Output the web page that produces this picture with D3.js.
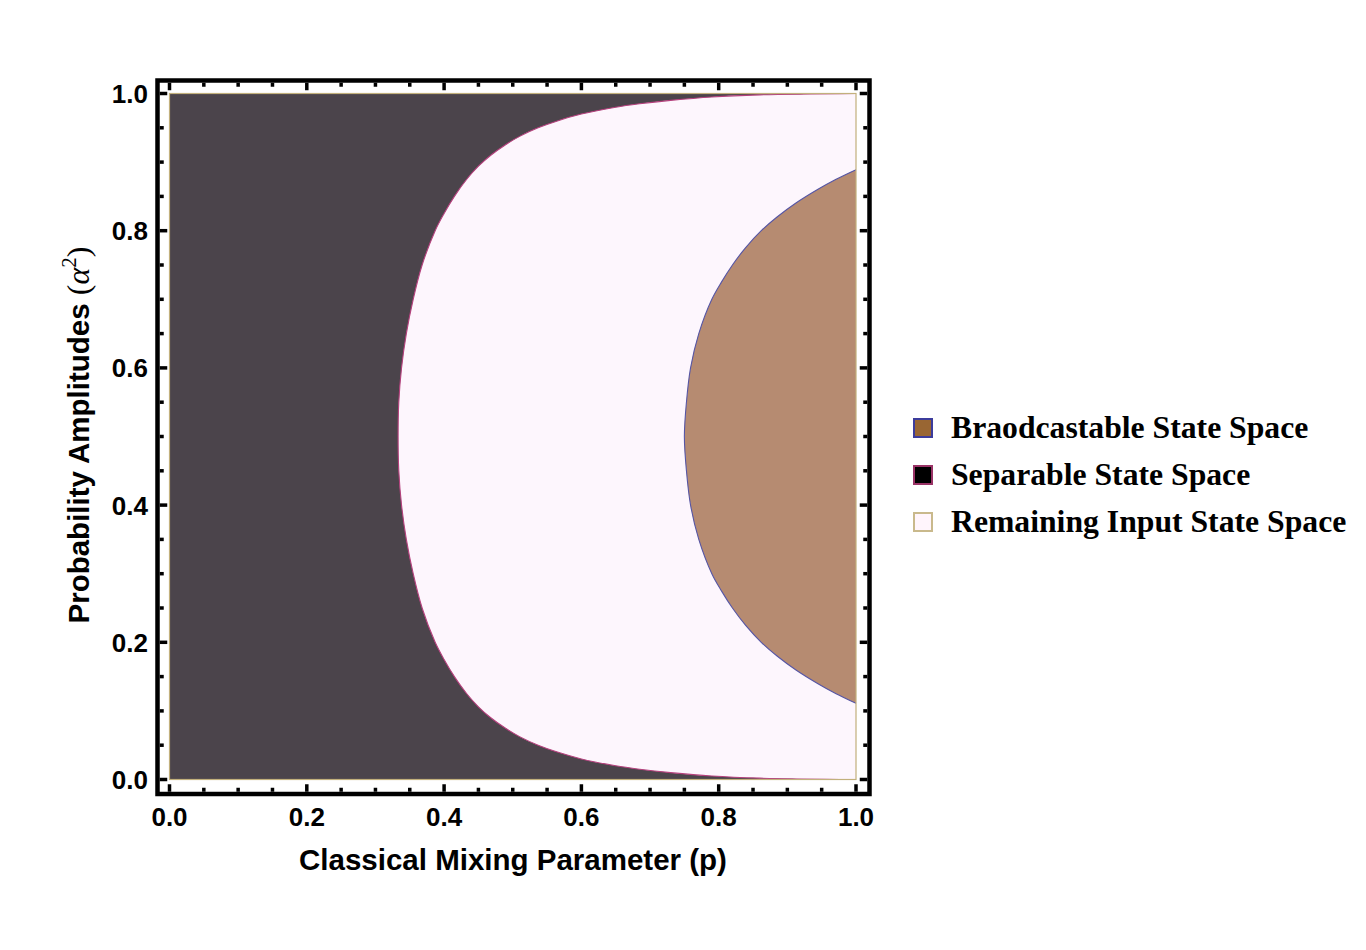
<!DOCTYPE html>
<html lang="en">
<head>
  <meta charset="UTF-8">
  <title>Broadcastable and Separable State Space</title>
  <script src="https://d3js.org/d3.v7.min.js"></script>
  <style>
    body
    {
      margin: 0;
      background-color: #ffffff;
    }

    svg
    {
      display: block;
    }

    .tick-label
    {
      font-family: "Liberation Sans", Arial, sans-serif;
      font-weight: bold;
      font-size: 26px;
      fill: #000;
    }

    .axis-title
    {
      font-family: "Liberation Sans", Arial, sans-serif;
      font-weight: bold;
      font-size: 29.5px;
      fill: #000;
    }

    .legend-text
    {
      font-family: "Liberation Serif", "Times New Roman", serif;
      font-weight: bold;
      font-size: 31.7px;
      fill: #000;
    }
  </style>
</head>
<body>
  <svg width="1366" height="950"></svg>
  <script>
    // separable boundary: p at each alpha^2
    const sepAlpha = [0, 0.002, 0.005, 0.01, 0.015, 0.02, 0.03, 0.04, 0.05, 0.0625, 0.075, 0.09, 0.106, 0.125,
                      0.15, 0.175, 0.2, 0.25, 0.3, 0.35, 0.4, 0.45, 0.5,
                      0.55, 0.6, 0.65, 0.7, 0.75, 0.8, 0.825, 0.85, 0.875, 0.894, 0.91, 0.925, 0.9375,
                      0.95, 0.96, 0.97, 0.98, 0.985, 0.99, 0.995, 0.998, 1];
    const sepP = [1.0, 0.86, 0.79, 0.73, 0.685, 0.65, 0.60, 0.565, 0.537, 0.51, 0.489, 0.468, 0.450, 0.433,
                  0.415, 0.400, 0.387, 0.368, 0.355, 0.345, 0.338, 0.334, 0.333,
                  0.334, 0.338, 0.345, 0.355, 0.368, 0.387, 0.400, 0.415, 0.433, 0.450, 0.468, 0.489, 0.51,
                  0.537, 0.565, 0.60, 0.65, 0.685, 0.73, 0.79, 0.86, 1.0];

    // broadcastable boundary
    const broadAlpha = [0.111, 0.125, 0.14, 0.16, 0.18, 0.2, 0.225, 0.25, 0.275, 0.3, 0.35, 0.4, 0.45, 0.5,
                        0.55, 0.6, 0.65, 0.7, 0.725, 0.75, 0.775, 0.8, 0.82, 0.84, 0.86, 0.875, 0.889];
    const broadP = [1.0, 0.971, 0.944, 0.912, 0.885, 0.862, 0.839, 0.820, 0.804, 0.790, 0.771, 0.759, 0.753, 0.750,
                    0.753, 0.759, 0.771, 0.790, 0.804, 0.820, 0.839, 0.862, 0.885, 0.912, 0.944, 0.971, 1.0];

    const majorTicks = [0, 0.2, 0.4, 0.6, 0.8, 1.0];
    const tickLabels = ["0.0", "0.2", "0.4", "0.6", "0.8", "1.0"];

    const legendNames = ["Braodcastable State Space", "Separable State Space", "Remaining Input State Space"];
    const legendFill = ["#996633", "#000000", "#fff5fc"];
    const legendStroke = ["#3c3c9c", "#993366", "#c9b98c"];

    const svg = d3.select("svg");

    const x = d3.scaleLinear().domain([0, 1]).range([169.5, 856]);
    const y = d3.scaleLinear().domain([0, 1]).range([779.5, 93.5]);

    const line = d3.line()
      .x(d => x(d[0]))
      .y(d => y(d[1]))
      .curve(d3.curveCatmullRom.alpha(0.5));

    const sepPts = sepAlpha.map((a, i) => [sepP[i], a]);
    const broadPts = broadAlpha.map((a, i) => [broadP[i], a]);

    // remaining space (background of the data area)
    svg.append("rect")
      .attr("x", x(0))
      .attr("y", y(1))
      .attr("width", x(1) - x(0))
      .attr("height", y(0) - y(1))
      .attr("fill", "#fdf6fd");

    // separable region
    svg.append("path")
      .attr("d", line(sepPts) + `L${x(0)},${y(1)}L${x(0)},${y(0)}Z`)
      .attr("fill", "#4b444b");

    svg.append("path")
      .attr("d", line(sepPts))
      .attr("fill", "none")
      .attr("stroke", "#b5417d")
      .attr("stroke-width", 1.1);

    // broadcastable region
    svg.append("path")
      .attr("d", line(broadPts) + "Z")
      .attr("fill", "#b68b71");

    svg.append("path")
      .attr("d", line(broadPts))
      .attr("fill", "none")
      .attr("stroke", "#5555a5")
      .attr("stroke-width", 1.1);

    // thin border of the region plot
    svg.append("rect")
      .attr("x", x(0))
      .attr("y", y(1))
      .attr("width", x(1) - x(0))
      .attr("height", y(0) - y(1))
      .attr("fill", "none")
      .attr("stroke", "#c2b07c")
      .attr("stroke-width", 1.2);

    // frame
    const fx0 = 157.5, fx1 = 869.5, fy0 = 80.5, fy1 = 794;
    const fw = 4.5;
    svg.append("rect")
      .attr("x", fx0)
      .attr("y", fy0)
      .attr("width", fx1 - fx0)
      .attr("height", fy1 - fy0)
      .attr("fill", "none")
      .attr("stroke", "#000")
      .attr("stroke-width", fw);

    const minorTicks = d3.range(0, 1.0001, 0.05);
    const ticks = svg.append("g").attr("stroke", "#000").attr("stroke-width", 3.5);
    const isMajor = v => majorTicks.some(m => Math.abs(m - v) < 1e-6);

    minorTicks.forEach(v => {
      const len = isMajor(v) ? 7.5 : 4;
      // bottom and top
      ticks.append("line")
        .attr("x1", x(v)).attr("x2", x(v))
        .attr("y1", fy1 - fw / 2).attr("y2", fy1 - fw / 2 - len);
      ticks.append("line")
        .attr("x1", x(v)).attr("x2", x(v))
        .attr("y1", fy0 + fw / 2).attr("y2", fy0 + fw / 2 + len);
      // left and right
      ticks.append("line")
        .attr("y1", y(v)).attr("y2", y(v))
        .attr("x1", fx0 + fw / 2).attr("x2", fx0 + fw / 2 + len);
      ticks.append("line")
        .attr("y1", y(v)).attr("y2", y(v))
        .attr("x1", fx1 - fw / 2).attr("x2", fx1 - fw / 2 - len);
    });

    // tick labels
    svg.selectAll(".xlab")
      .data(majorTicks)
      .join("text")
      .attr("class", "tick-label")
      .attr("x", d => x(d))
      .attr("y", 826)
      .attr("text-anchor", "middle")
      .text((d, i) => tickLabels[i]);

    svg.selectAll(".ylab")
      .data(majorTicks)
      .join("text")
      .attr("class", "tick-label")
      .attr("x", 148)
      .attr("y", d => y(d) + 9.5)
      .attr("text-anchor", "end")
      .text((d, i) => tickLabels[i]);

    // axis titles
    svg.append("text")
      .attr("class", "axis-title")
      .attr("x", 513)
      .attr("y", 870)
      .attr("text-anchor", "middle")
      .text("Classical Mixing Parameter (p)");

    const yt = svg.append("text")
      .attr("class", "axis-title")
      .attr("transform", "translate(89,435) rotate(-90)")
      .attr("text-anchor", "middle");
    yt.append("tspan").text("Probability Amplitudes ");
    const serif = t => t
      .style("font-family", "'Liberation Serif', serif")
      .style("font-weight", "normal")
      .style("font-size", "32px");
    yt.append("tspan").call(serif).text("(");
    yt.append("tspan").call(serif).style("font-style", "italic").text("α");
    yt.append("tspan").call(serif)
      .style("font-size", "21px")
      .attr("dy", -13)
      .text("2");
    yt.append("tspan").call(serif)
      .attr("dy", 13)
      .text(")");

    // legend
    const legend = svg.append("g");
    legendNames.forEach((name, i) => {
      const cy = 428 + i * 47;
      legend.append("rect")
        .attr("x", 914)
        .attr("y", cy - 9)
        .attr("width", 18)
        .attr("height", 18)
        .attr("fill", legendFill[i])
        .attr("stroke", legendStroke[i])
        .attr("stroke-width", 2);
      legend.append("text")
        .attr("class", "legend-text")
        .attr("x", 951)
        .attr("y", cy + 10)
        .text(name);
    });
  </script>
</body>
</html>
